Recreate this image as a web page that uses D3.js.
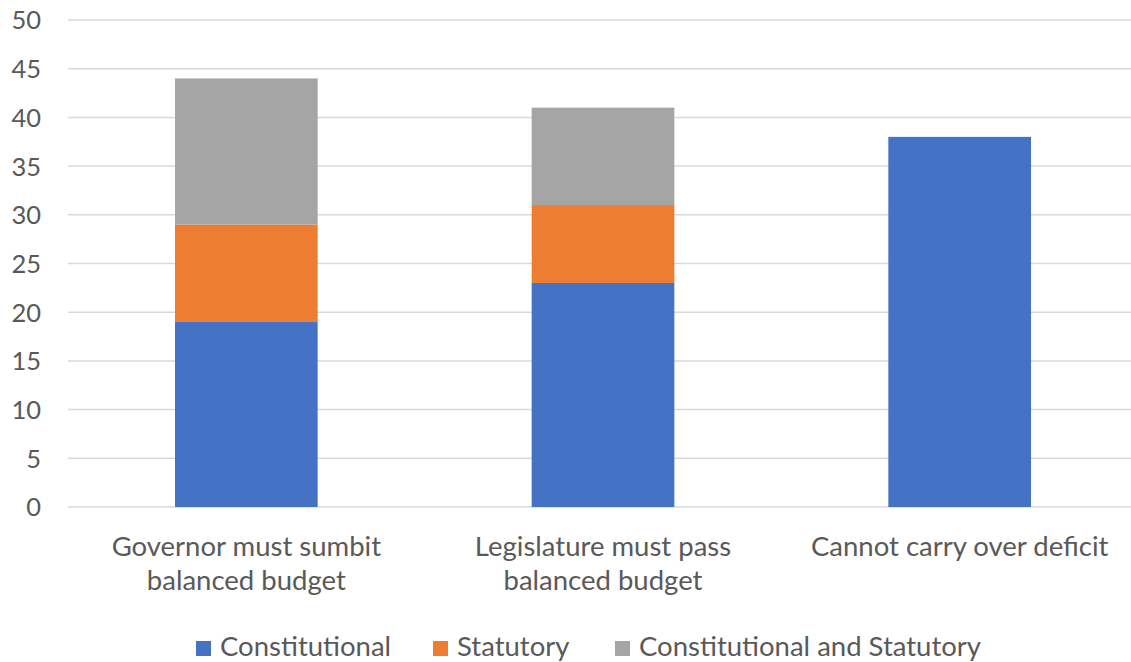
<!DOCTYPE html>
<html><head><meta charset="utf-8">
<script src="https://cdn.jsdelivr.net/npm/d3@7"></script>
<style>body{margin:0;background:#fff}svg{display:block}</style>
</head><body><svg id="c" width="1131" height="662"></svg>
<script>
const categories = [["Governor must sumbit","balanced budget"],["Legislature must pass","balanced budget"],["Cannot carry over deficit"]];
const seriesNames = ["Constitutional","Statutory","Constitutional and Statutory"];
const constitutional = [19,23,38];
const statutory = [10,8,0];
const both = [15,10,0];
const yTicks = [0,5,10,15,20,25,30,35,40,45,50];
const colors = ["#4472c4","#ed7d31","#a5a5a5"];

const svg = d3.select("#c");
const font = "Lato, 'Open Sans', sans-serif";
const keys = categories.map((c,i)=>i);
const x = d3.scaleBand().domain(keys).range([68,1138]).paddingInner(0.6).paddingOuter(0.3);
const y = d3.scaleLinear().domain([0,50]).range([507,20]);

// gridlines
svg.append("g").selectAll("line").data(yTicks).join("line")
  .attr("x1",68).attr("x2",1138).attr("y1",d=>y(d)).attr("y2",d=>y(d))
  .attr("stroke","#d9d9d9").attr("stroke-width",1.5);

// y axis labels
const yAxis = d3.axisLeft(y).tickValues(yTicks).tickSize(0).tickPadding(0);
const ya = svg.append("g").attr("transform","translate(41,0)").call(yAxis);
ya.select(".domain").remove();
ya.selectAll("text").attr("font-family",font).attr("font-size",25.5).attr("fill","#595959").attr("dy","0.35em");

// stacked data
const rows = keys.map(i=>({i, s0:constitutional[i], s1:statutory[i], s2:both[i]}));
const stack = d3.stack().keys(["s0","s1","s2"])(rows);
svg.append("g").selectAll("g").data(stack).join("g").attr("fill",(d,k)=>colors[k])
  .selectAll("rect").data(d=>d.filter(p=>p[1]-p[0]>0)).join("rect")
  .attr("x",d=>x(d.data.i)).attr("width",x.bandwidth())
  .attr("y",d=>y(d[1])).attr("height",d=>y(d[0])-y(d[1]));

// category labels
const cl = svg.append("g").selectAll("text").data(categories).join("text")
  .attr("x",(d,i)=>x(i)+x.bandwidth()/2).attr("y",556)
  .attr("text-anchor","middle").attr("font-family",font).attr("font-size",27.5).attr("fill","#595959");
cl.selectAll("tspan").data(d=>d).join("tspan")
  .attr("x",function(){return this.parentNode.getAttribute("x");})
  .attr("dy",(d,j)=>j?34:0).text(d=>d);

// legend
const legX = [196,433,615];
const lg = svg.append("g").selectAll("g").data(seriesNames).join("g")
  .attr("transform",(d,i)=>`translate(${legX[i]},0)`);
lg.append("rect").attr("x",0).attr("y",641).attr("width",15).attr("height",15).attr("fill",(d,i)=>colors[i]);
lg.append("text").attr("x",24).attr("y",656).attr("font-family",font).attr("font-size",27.5).attr("fill","#595959").text(d=>d);
</script></body></html>
